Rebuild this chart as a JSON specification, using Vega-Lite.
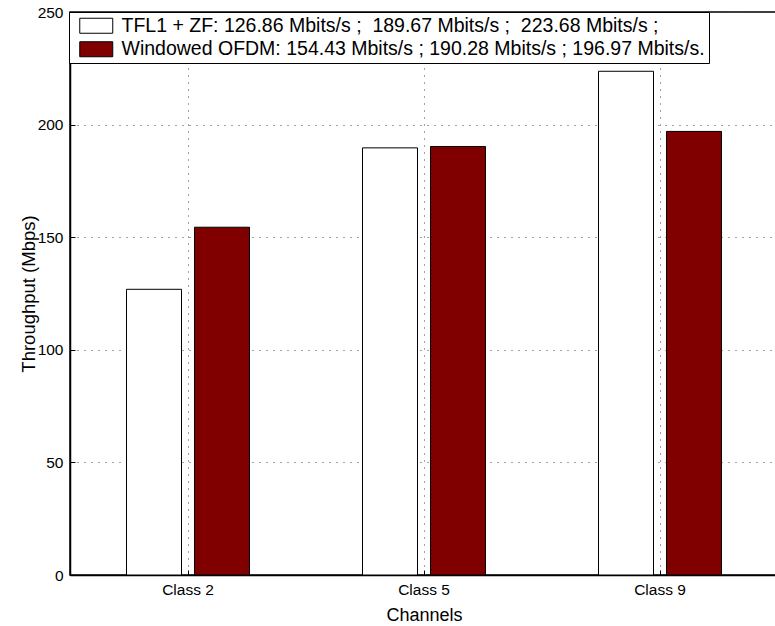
{
  "$schema": "https://vega.github.io/schema/vega-lite/v6.json",
  "width": 708,
  "height": 563,
  "autosize": "none",
  "padding": {"left": 70, "top": 12, "right": 0, "bottom": 51},
  "background": "white",
  "data": {
    "values": [
      {"channel": "Class 2", "scheme": "TFL1 + ZF", "throughput": 126.86},
      {"channel": "Class 2", "scheme": "Windowed OFDM", "throughput": 154.43},
      {"channel": "Class 5", "scheme": "TFL1 + ZF", "throughput": 189.67},
      {"channel": "Class 5", "scheme": "Windowed OFDM", "throughput": 190.28},
      {"channel": "Class 9", "scheme": "TFL1 + ZF", "throughput": 223.68},
      {"channel": "Class 9", "scheme": "Windowed OFDM", "throughput": 196.97}
    ]
  },
  "mark": {"type": "bar", "stroke": "black", "strokeWidth": 1},
  "encoding": {
    "x": {
      "field": "channel",
      "type": "nominal",
      "sort": ["Class 2", "Class 5", "Class 9"],
      "scale": {"paddingInner": 0, "paddingOuter": 0},
      "axis": {
        "title": "Channels",
        "labelAngle": 0,
        "grid": true,
        "gridDash": [1, 6],
        "gridColor": "#444444",
        "gridWidth": 1,
        "domainColor": "black",
        "domainWidth": 1.5,
        "tickColor": "black",
        "tickSize": -5,
        "labelPadding": 12,
        "labelFontSize": 15.5,
        "labelColor": "black",
        "titleFontSize": 18,
        "titleFontWeight": "normal",
        "titleColor": "black",
        "titlePadding": 9
      }
    },
    "xOffset": {
      "field": "scheme",
      "type": "nominal",
      "scale": {"paddingInner": 0.191, "paddingOuter": 0.831}
    },
    "y": {
      "field": "throughput",
      "type": "quantitative",
      "scale": {"domain": [0, 250], "nice": false},
      "axis": {
        "title": "Throughput (Mbps)",
        "values": [0, 50, 100, 150, 200, 250],
        "grid": true,
        "gridDash": [1, 6],
        "gridColor": "#444444",
        "gridWidth": 1,
        "domainColor": "black",
        "domainWidth": 1.5,
        "tickColor": "black",
        "tickSize": -5,
        "labelPadding": 12,
        "labelFontSize": 15.5,
        "labelColor": "black",
        "titleFontSize": 18.5,
        "titleFontWeight": "normal",
        "titleColor": "black",
        "titlePadding": -1
      }
    },
    "fill": {
      "field": "scheme",
      "type": "nominal",
      "scale": {"domain": ["TFL1 + ZF", "Windowed OFDM"], "range": ["white", "#800000"]},
      "legend": {
        "title": null,
        "orient": "none",
        "legendX": -1,
        "legendY": 0,
        "labelExpr": "datum.label == 'TFL1 + ZF' ? 'TFL1 + ZF: 126.86 Mbits/s ; \u00a0189.67 Mbits/s ; \u00a0223.68 Mbits/s ;' : 'Windowed OFDM: 154.43 Mbits/s ; 190.28 Mbits/s ; 196.97 Mbits/s.'"
      }
    }
  },
  "config": {
    "font": "Liberation Sans",
    "view": {"stroke": "black", "strokeWidth": 1.5},
    "legend": {
      "strokeColor": "black",
      "fillColor": "white",
      "padding": 4,
      "symbolType": "M-0.375,-0.9375H3.75V0.9375H-0.375Z",
      "symbolSize": 256,
      "symbolStrokeColor": "black",
      "symbolStrokeWidth": 1,
      "labelFontSize": 19.5,
      "labelFont": "Liberation Sans",
      "labelColor": "black",
      "labelOffset": 29,
      "labelLimit": 0,
      "rowPadding": 2.5
    }
  }
}
